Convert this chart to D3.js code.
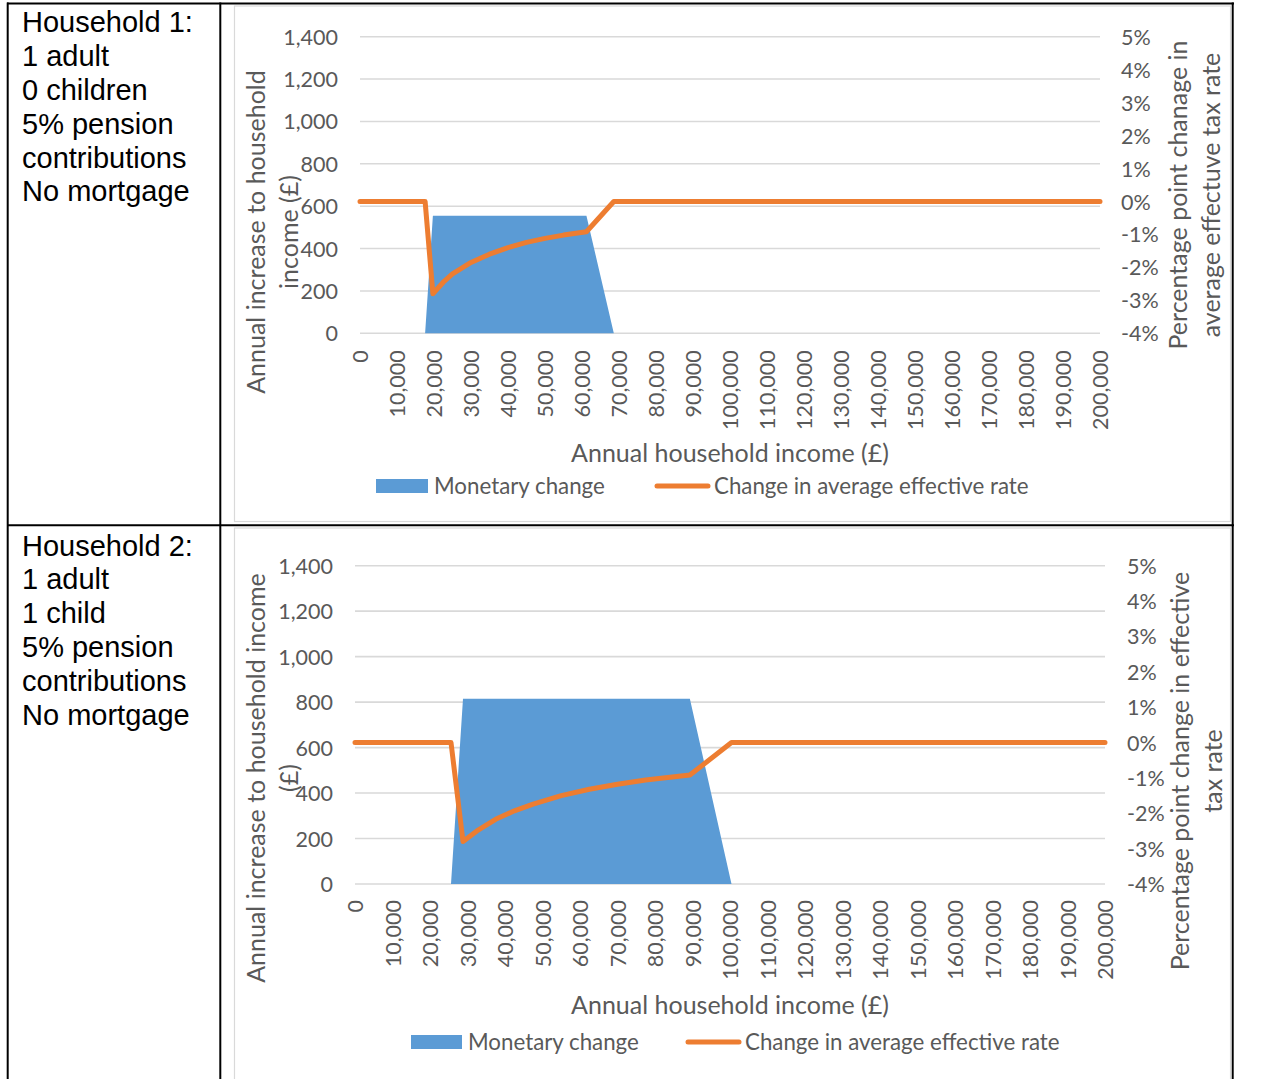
<!DOCTYPE html>
<html>
<head>
<meta charset="utf-8">
<script src="https://cdn.jsdelivr.net/npm/d3@7"></script>
<style>
  html, body { margin: 0; padding: 0; background: #fff; }
  svg { display: block; }
</style>
</head>
<body>
<svg id="page" width="1264" height="1079"></svg>
<script>
// ---- Data -------------------------------------------------------------
const xTicks = [0, 10000, 20000, 30000, 40000, 50000, 60000, 70000, 80000, 90000, 100000,
                110000, 120000, 130000, 140000, 150000, 160000, 170000, 180000, 190000, 200000];
const leftTicks = [0, 200, 400, 600, 800, 1000, 1200, 1400];
const rightTicks = [-4, -3, -2, -1, 0, 1, 2, 3, 4, 5];

// Household 1: 1 adult, 0 children
const h1Income   = [0, 17600, 19700, 22500, 25000, 30000, 35000, 40000, 45000, 50000, 55000, 61200, 68600, 200000];
const h1Monetary = [0, 0, 555, 555, 555, 555, 555, 555, 555, 555, 555, 555, 0, 0];
const h1Rate     = [0, 0, -2.8, -2.45, -2.2, -1.85, -1.6, -1.4, -1.24, -1.12, -1.02, -0.92, 0, 0];

// Household 2: 1 adult, 1 child
const h2Income   = [0, 25600, 28800, 32500, 37500, 42500, 47500, 55000, 62500, 70000, 77500, 89300, 100400, 200000];
const h2Monetary = [0, 0, 815, 815, 815, 815, 815, 815, 815, 815, 815, 815, 0, 0];
const h2Rate     = [0, 0, -2.8, -2.5, -2.17, -1.93, -1.74, -1.5, -1.32, -1.18, -1.06, -0.92, 0, 0];

const h1Desc = ["Household 1:", "1 adult", "0 children", "5% pension", "contributions", "No mortgage"];
const h2Desc = ["Household 2:", "1 adult", "1 child", "5% pension", "contributions", "No mortgage"];

const xTitle = "Annual household income (£)";
const h1LeftTitle = ["Annual increase to household", "income (£)"];
const h2LeftTitle = ["Annual increase to household income", "(£)"];
const h1RightTitle = ["Percentage point chanage in", "average effectuve tax rate"];
const h2RightTitle = ["Percentage point change in effective", "tax rate"];
const legendNames = ["Monetary change", "Change in average effective rate"];

// ---- Styles -----------------------------------------------------------
const BLUE = "#5B9BD5", ORANGE = "#ED7D31", GRID = "#D9D9D9", TXT = "#595959";
const CHART_FONT = "Lato, 'Open Sans', sans-serif";
const TICK_SIZE = 21.5, TITLE_SIZE = 25, LEGEND_SIZE = 22.3;

const svg = d3.select("#page");
svg.append("rect").attr("width", 1264).attr("height", 1079).attr("fill", "#fff");

// ---- Table grid -------------------------------------------------------
const table = svg.append("g").attr("stroke", "#000").attr("stroke-width", 2);
table.append("line").attr("x1", 7).attr("x2", 1234).attr("y1", 3.5).attr("y2", 3.5);
table.append("line").attr("x1", 7).attr("x2", 1234).attr("y1", 525.3).attr("y2", 525.3);
table.append("line").attr("x1", 7.7).attr("x2", 7.7).attr("y1", 2.5).attr("y2", 1079);
table.append("line").attr("x1", 220.3).attr("x2", 220.3).attr("y1", 2.5).attr("y2", 1079);
table.append("line").attr("x1", 1232.7).attr("x2", 1232.7).attr("y1", 2.5).attr("y2", 1079);

function drawDesc(lines, baseY) {
  svg.append("g").selectAll("text").data(lines).join("text")
    .attr("x", 22)
    .attr("y", (d, i) => baseY + i * 33.8)
    .attr("font-family", "'Liberation Sans', Arial, sans-serif")
    .attr("font-size", 29)
    .attr("fill", "#000")
    .text(d => d);
}
drawDesc(h1Desc, 32.3);
drawDesc(h2Desc, 555.6);

// ---- Chart ------------------------------------------------------------
function drawChart(cfg, income, monetary, rate) {
  const g = svg.append("g");
  const rows = income.map((x, i) => ({ x, m: monetary[i], r: rate[i] }));

  // chart frame
  g.append("rect")
    .attr("x", cfg.frame[0]).attr("y", cfg.frame[1])
    .attr("width", cfg.frame[2]).attr("height", cfg.frame[3])
    .attr("fill", "#fff").attr("stroke", GRID).attr("stroke-width", 1.2);

  const x = d3.scaleLinear().domain([0, 200000]).range([cfg.x0, cfg.x1]);
  const yL = d3.scaleLinear().domain([0, 1400]).range([cfg.y0, cfg.y1]);
  const yR = d3.scaleLinear().domain([-4, 5]).range([cfg.y0, cfg.y1]);

  // gridlines
  g.append("g").selectAll("line").data(leftTicks).join("line")
    .attr("x1", cfg.x0).attr("x2", cfg.x1)
    .attr("y1", d => yL(d)).attr("y2", d => yL(d))
    .attr("stroke", GRID).attr("stroke-width", 1.6);

  // monetary change area
  g.append("path").datum(rows)
    .attr("fill", BLUE)
    .attr("d", d3.area().x(d => x(d.x)).y0(yL(0)).y1(d => yL(d.m)));

  // change in average effective rate
  g.append("path").datum(rows)
    .attr("fill", "none").attr("stroke", ORANGE).attr("stroke-width", 5)
    .attr("stroke-linejoin", "round").attr("stroke-linecap", "round")
    .attr("d", d3.line().x(d => x(d.x)).y(d => yR(d.r)));

  const fmt = d3.format(",");

  // left axis
  const axL = g.append("g").attr("transform", `translate(${cfg.leftLabelX},0)`)
    .call(d3.axisLeft(yL).tickValues(leftTicks).tickSize(0).tickPadding(0).tickFormat(fmt));
  axL.select(".domain").remove();
  axL.selectAll("text").attr("font-family", CHART_FONT).attr("font-size", TICK_SIZE)
    .attr("fill", TXT).attr("dy", "0.35em");

  // right axis
  const axR = g.append("g").attr("transform", `translate(${cfg.rightLabelX},0)`)
    .call(d3.axisRight(yR).tickValues(rightTicks).tickSize(0).tickPadding(0).tickFormat(d => d + "%"));
  axR.select(".domain").remove();
  axR.selectAll("text").attr("font-family", CHART_FONT).attr("font-size", TICK_SIZE)
    .attr("fill", TXT).attr("dy", "0.35em");

  // bottom axis (rotated labels)
  const axB = g.append("g").attr("transform", `translate(0,${cfg.y0})`)
    .call(d3.axisBottom(x).tickValues(xTicks).tickSize(0).tickFormat(fmt));
  axB.select(".domain").remove();
  axB.selectAll("text")
    .attr("font-family", CHART_FONT).attr("font-size", TICK_SIZE).attr("fill", TXT)
    .attr("transform", "rotate(-90)")
    .attr("text-anchor", "end")
    .attr("x", -cfg.xLabelGap).attr("y", 0).attr("dy", "0.35em");

  // axis titles
  const title = (lines, xs, cy) => {
    lines.forEach((t, i) => {
      g.append("text")
        .attr("transform", `translate(${xs[i]},${cy}) rotate(-90)`)
        .attr("text-anchor", "middle").attr("dy", "0.35em")
        .attr("font-family", CHART_FONT).attr("font-size", TITLE_SIZE).attr("fill", TXT)
        .text(t);
    });
  };
  title(cfg.leftTitle, cfg.leftTitleX, cfg.leftTitleY);
  title(cfg.rightTitle, cfg.rightTitleX, cfg.rightTitleY);

  g.append("text")
    .attr("x", (cfg.x0 + cfg.x1) / 2).attr("y", cfg.xTitleY).attr("dy", "0.35em")
    .attr("text-anchor", "middle")
    .attr("font-family", CHART_FONT).attr("font-size", TITLE_SIZE).attr("fill", TXT)
    .text(xTitle);

  // legend
  const lg = g.append("g").attr("transform", `translate(0,${cfg.legendY})`);
  lg.append("rect").attr("x", cfg.legendRect[0]).attr("y", -7)
    .attr("width", cfg.legendRect[1] - cfg.legendRect[0]).attr("height", 14).attr("fill", BLUE);
  lg.append("line").attr("x1", cfg.legendLine[0]).attr("x2", cfg.legendLine[1])
    .attr("y1", 0).attr("y2", 0)
    .attr("stroke", ORANGE).attr("stroke-width", 5).attr("stroke-linecap", "round");
  cfg.legendText.forEach((lx, i) => {
    lg.append("text").attr("x", lx).attr("y", 0).attr("dy", "0.35em")
      .attr("font-family", CHART_FONT).attr("font-size", LEGEND_SIZE).attr("fill", TXT)
      .text(legendNames[i]);
  });
}

drawChart({
  frame: [234.5, 6, 996, 515.5],
  x0: 360, x1: 1100, y0: 333.3, y1: 36.7,
  leftLabelX: 338, rightLabelX: 1121, xLabelGap: 17,
  leftTitle: h1LeftTitle, leftTitleX: [256, 289], leftTitleY: 232,
  rightTitle: h1RightTitle, rightTitleX: [1178, 1211], rightTitleY: 195,
  xTitleY: 453,
  legendY: 486, legendRect: [376, 428], legendLine: [657, 708], legendText: [434, 714]
}, h1Income, h1Monetary, h1Rate);

drawChart({
  frame: [234.5, 528, 996, 560],
  x0: 355, x1: 1105, y0: 884, y1: 565.7,
  leftLabelX: 333, rightLabelX: 1127, xLabelGap: 16,
  leftTitle: h2LeftTitle, leftTitleX: [256, 289], leftTitleY: 778,
  rightTitle: h2RightTitle, rightTitleX: [1180, 1213], rightTitleY: 771,
  xTitleY: 1005,
  legendY: 1042, legendRect: [411, 462], legendLine: [688, 739], legendText: [468, 745]
}, h2Income, h2Monetary, h2Rate);
</script>
</body>
</html>
